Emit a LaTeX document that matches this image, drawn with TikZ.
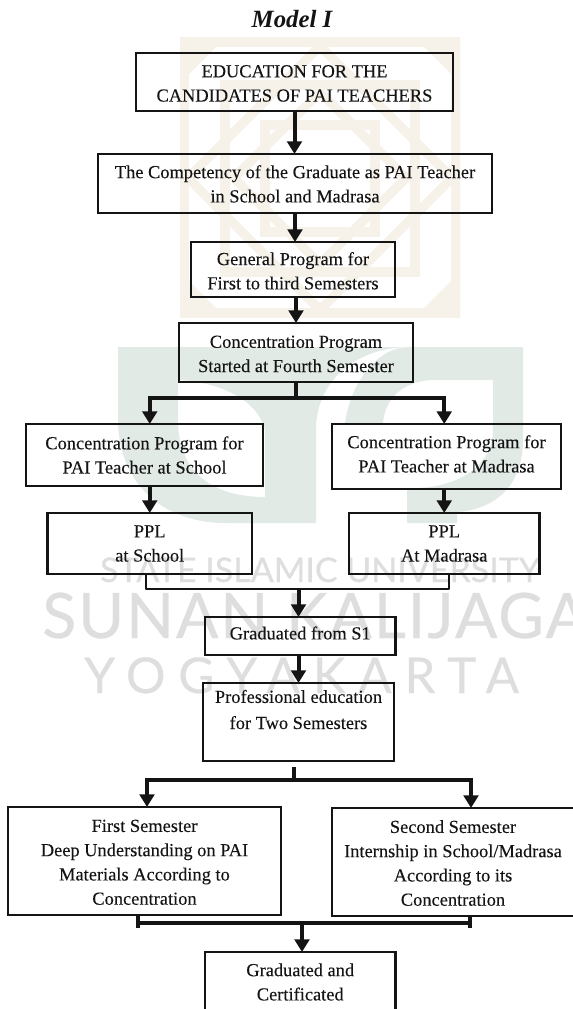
\documentclass[tikz,border=0pt]{standalone}
\usepackage{fontspec}
\setmainfont{Liberation Serif}
\newfontfamily\bxfont[FakeBold=0.18]{Liberation Serif}
\newfontfamily\wmfont[FakeBold=0.5]{Lato}
\usetikzlibrary{arrows.meta}
\definecolor{ink}{HTML}{141414}
\definecolor{wmgreen}{HTML}{E2EAE6}
\definecolor{wmtan}{HTML}{F6F2E9}
\definecolor{wmgray}{HTML}{DEDEDE}
\tikzset{
  bx/.style={draw=ink,line width=1.8pt,inner sep=0pt,outer sep=0pt,align=center,text=ink,
    font=\bxfont\fontsize{13.8}{18.2}\selectfont},
  heavybx/.style={line width=2.05pt},
  conn/.style={draw=ink,line width=3pt},
  thinconn/.style={draw=ink,line width=1.9pt},
  arr/.style={conn,-{Triangle[width=11pt,length=9.5pt]}},
  logo/.style={draw=wmtan,line width=7pt},
}
\newcommand{\pushdown}[1]{\rule{0pt}{\dimexpr 9.5pt+2\dimexpr #1\relax\relax}}
\newcommand{\pushup}[1]{\rule[-\dimexpr 3pt+2\dimexpr #1\relax\relax]{0pt}{0pt}}
\newcommand{\bxnode}[7]{%
  \pgfmathsetmacro\bxcx{(#2+#4)/2}\pgfmathsetmacro\bxcy{(#3+#5)/2}%
  \pgfmathsetmacro\bxw{(#4-#2)*0.75}\pgfmathsetmacro\bxh{(#5-#3)*0.75}%
  \node[bx,#6,minimum width=\bxw pt,minimum height=\bxh pt] (#1) at (\bxcx,\bxcy) {#7};}
\begin{document}
\begin{tikzpicture}[x=0.75pt,y=-0.75pt]
\useasboundingbox (0,0) rectangle (573,1009);
\begin{scope}
\clip (0,0) rectangle (573,1009);
% watermark: crest
\begin{scope}
\clip (180,38) rectangle (460,317);
\draw[logo] (184,42) rectangle (456,313);
\draw[logo] (320,46) -- (452,178) -- (320,310) -- (188,178) -- cycle;
\draw[logo] (225,85) -- (415,85) -- (415,272) -- (225,272) -- cycle;
\draw[logo] (320,92) -- (406,178) -- (320,264) -- (234,178) -- cycle;
\draw[logo] (265,125) -- (375,125) -- (375,232) -- (265,232) -- cycle;
\fill[wmtan] (180,38) -- (225,38) -- (180,83) -- cycle;
\fill[wmtan] (460,38) -- (415,38) -- (460,83) -- cycle;
\fill[wmtan] (180,317) -- (225,317) -- (180,272) -- cycle;
\fill[wmtan] (460,317) -- (415,317) -- (460,272) -- cycle;
\end{scope}
% watermark: university mark
\fill[wmgreen] (118,347) -- (178,347) -- (178,420) .. controls (178,470) and (210,497) .. (265,497) -- (265,523) -- (225,523) .. controls (160,523) and (118,480) .. (118,420) -- cycle;
\fill[wmgreen] (178,347) -- (405,347) .. controls (350,350) and (316,385) .. (316,430) -- (316,523) -- (265,523) -- (265,430) .. controls (258,400) and (220,382) .. (178,380) -- cycle;
\fill[wmgreen] (405,347) -- (523,347) -- (523,440) .. controls (523,490) and (490,510) .. (457,512) -- (457,523) -- (407,523) -- (407,488) .. controls (450,490) and (493,470) .. (493,430) -- (493,380) -- (430,380) .. controls (400,383) and (385,400) .. (383,423) -- (345,423) .. controls (350,385) and (375,350) .. (405,347) -- cycle;
% watermark: text
\node[text=wmgray,font=\wmfont\fontsize{25.5}{28}\selectfont,anchor=base,inner sep=0pt] (wma) at (320,582) {STATE ISLAMIC UNIVERSITY};
\node[text=wmgray,font=\wmfont\fontsize{47}{50}\selectfont\addfontfeature{LetterSpace=3},anchor=base west,inner sep=0pt] (wmb) at (42,638) {SUNAN KALIJAGA};
\node[text=wmgray,font=\wmfont\fontsize{37}{40}\selectfont\addfontfeature{LetterSpace=26},anchor=base west,inner sep=0pt] (wmc) at (84,693) {YOGYAKARTA};
% diagram
\node[text=ink,font=\bfseries\itshape\fontsize{18.6}{20}\selectfont,inner sep=0pt] (title) at (292,19) {Model I};
\bxnode{top}{136}{53}{453}{111}{heavybx}{\pushdown{0.9pt}EDUCATION FOR THE\\CANDIDATES OF PAI TEACHERS}
\bxnode{comp}{98}{154}{492}{213}{}{\pushdown{0.4pt}The Competency of the Graduate as PAI Teacher\\in School and Madrasa}
\bxnode{general}{191}{242}{395}{297}{}{\pushdown{1.1pt}General Program for\\First to third Semesters}
\bxnode{conc}{179}{323}{413}{382}{}{\pushdown{0.9pt}Concentration Program\\Started at Fourth Semester}
\bxnode{cl}{26}{424}{263}{486}{heavybx}{Concentration Program for\\PAI Teacher at School}
\bxnode{cr}{332}{424}{561}{489}{}{Concentration Program for\\PAI Teacher at Madrasa\pushup{0.5pt}}
\bxnode{ppll}{47.5}{513}{252}{574}{}{PPL\\at School}
\bxnode{pplr}{349}{513}{539.5}{574}{}{PPL\\At Madrasa}
\bxnode{grad}{205}{617}{395.5}{655}{}{Graduated from S1\pushup{0.8pt}}
\bxnode{prof}{203}{683}{394}{761}{}{Professional education\\[1.4pt]for Two Semesters\pushup{7.9pt}}
\bxnode{first}{8}{807}{281}{915}{}{\pushdown{0.8pt}First Semester\\Deep Understanding on PAI\\Materials According to\\Concentration}
\bxnode{second}{332}{808}{574}{916}{}{\pushdown{0.8pt}Second Semester\\Internship in School/Madrasa\\According to its\\Concentration}
\bxnode{final}{205}{952}{395.5}{1012}{}{Graduated and\\Certificated}
% connectors
\draw[arr] (top.south) -- (top.south |- comp.north);
\draw[arr] (comp.south) -- (comp.south |- general.north);
\draw[arr] (conc.north |- general.south) -- (conc.north);
\coordinate (splitl) at (149.75,398);
\coordinate (splitr) at (444.25,398);
\draw[conn] (conc.south) -- (conc.south |- splitl);
\draw[arr] (splitl) -- (splitl |- cl.north);
\draw[arr] (splitr) -- (splitr |- cr.north);
\draw[conn,line cap=rect] (splitl) -- (splitr);
\draw[arr] (ppll.north |- cl.south) -- (ppll.north);
\draw[arr] (pplr.north |- cr.south) -- (pplr.north);
\coordinate (mergey) at (298.5,589);
\draw[thinconn,line join=round] ([xshift=-2.75pt]ppll.south) |- (mergey) -| ([xshift=3.4pt]pplr.south);
\draw[arr] (prof.north |- mergey) -- (prof.north |- grad.north);
\draw[arr] (prof.north |- grad.south) -- (prof.north);
\coordinate (stubtop) at (293.5,767);
\coordinate (stubbot) at (293.5,780);
\coordinate (forkl) at (147,780);
\coordinate (forkr) at (471,780);
\draw[conn] (stubtop) -- (stubbot);
\draw[conn,line cap=rect] (forkl) -- (forkr);
\draw[arr] (forkl) -- (forkl |- first.north);
\draw[arr] (forkr) -- (forkr |- second.north);
\coordinate (joinl) at (138,923);
\coordinate (joinr) at (470,923);
\coordinate (joinm) at (302,923);
\draw[conn] (joinl) -- (joinr);
\draw[conn] (joinl |- first.south) -- (138,928);
\draw[conn] (joinr |- second.south) -- (470,928);
\draw[arr] (joinm) -- (joinm |- final.north);
\end{scope}
\end{tikzpicture}
\end{document}
